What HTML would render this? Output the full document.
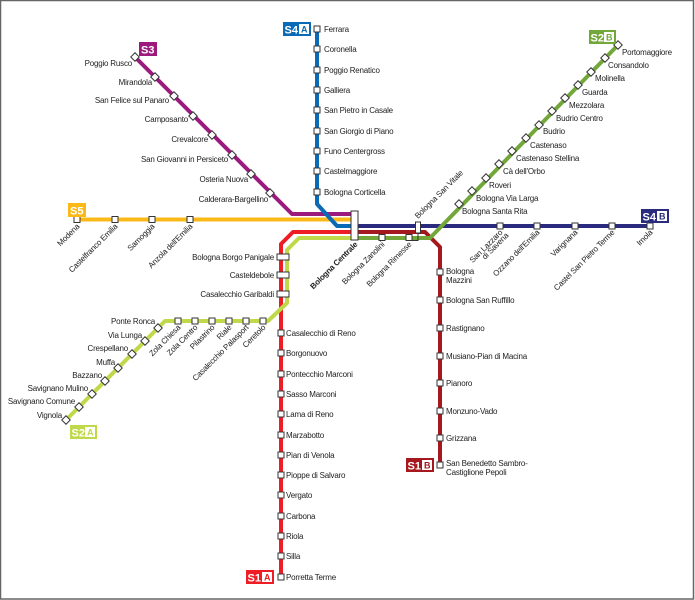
<!DOCTYPE html>
<html><head><meta charset="utf-8"><style>
html,body{margin:0;padding:0;background:#fff}
svg{display:block}
text{font-family:"Liberation Sans Narrow","Liberation Sans",sans-serif;font-size:8px;fill:#222;letter-spacing:-0.2px}
.b{font-weight:bold;font-size:11px;fill:#fff;font-family:"Liberation Sans",sans-serif;letter-spacing:0}
.st{fill:#fff;stroke:#333;stroke-width:1}
</style></head><body>
<svg width="695" height="600" viewBox="0 0 695 600" xmlns="http://www.w3.org/2000/svg">
<rect x="0.5" y="0.5" width="693" height="598.5" fill="#fff" stroke="#666" stroke-width="1.5"/>
<g fill="none" stroke-width="4" stroke-linejoin="round">
<polyline points="135,57 292,214 355,214" stroke="#9c1a7e"/>
<polyline points="77,219.5 355,219.5" stroke="#fbb817"/>
<polyline points="317,28 317,204 337,226 650,226" stroke="#0b6ab5"/>
<polyline points="355,226 650,226" stroke="#2a2a7e"/>
<polyline points="355,232 293,232 281,244 281,577" stroke="#ee1c24"/>
<polyline points="358,232 425,232 440,247 440,465" stroke="#a5181e"/>
<polyline points="355,238 299,238 287,250 287,303 268,321 165,321 66,420" stroke="#bfd94a"/>
<polyline points="358,238 430,238 618,45" stroke="#72a83a"/>
</g>
<g class="st">
<rect x="314" y="26" width="6" height="6"/><rect x="314" y="46" width="6" height="6"/><rect x="314" y="67" width="6" height="6"/><rect x="314" y="87" width="6" height="6"/><rect x="314" y="107" width="6" height="6"/><rect x="314" y="128" width="6" height="6"/><rect x="314" y="148" width="6" height="6"/><rect x="314" y="168" width="6" height="6"/><rect x="314" y="189" width="6" height="6"/>
<rect x="74" y="216.5" width="6" height="6"/><rect x="112" y="216.5" width="6" height="6"/><rect x="149" y="216.5" width="6" height="6"/><rect x="187" y="216.5" width="6" height="6"/>
<rect x="497" y="223" width="6" height="6"/><rect x="534" y="223" width="6" height="6"/><rect x="572" y="223" width="6" height="6"/><rect x="609" y="223" width="6" height="6"/><rect x="647" y="223" width="6" height="6"/>
<rect x="278" y="330" width="6" height="6"/><rect x="278" y="350" width="6" height="6"/><rect x="278" y="371" width="6" height="6"/><rect x="278" y="391" width="6" height="6"/><rect x="278" y="411" width="6" height="6"/><rect x="278" y="432" width="6" height="6"/><rect x="278" y="452" width="6" height="6"/><rect x="278" y="472" width="6" height="6"/><rect x="278" y="492" width="6" height="6"/><rect x="278" y="513" width="6" height="6"/><rect x="278" y="533" width="6" height="6"/><rect x="278" y="553" width="6" height="6"/><rect x="278" y="574" width="6" height="6"/>
<rect x="277" y="254" width="12" height="6"/><rect x="277" y="272" width="12" height="6"/><rect x="277" y="291" width="12" height="6"/>
<rect x="437" y="269" width="6" height="6"/><rect x="437" y="297" width="6" height="6"/><rect x="437" y="325" width="6" height="6"/><rect x="437" y="353" width="6" height="6"/><rect x="437" y="380" width="6" height="6"/><rect x="437" y="408" width="6" height="6"/><rect x="437" y="435" width="6" height="6"/><rect x="437" y="462" width="6" height="6"/>
<rect x="175" y="318" width="6" height="6"/><rect x="192" y="318" width="6" height="6"/><rect x="209" y="318" width="6" height="6"/><rect x="226" y="318" width="6" height="6"/><rect x="243" y="318" width="6" height="6"/><rect x="260" y="318" width="6" height="6"/>
<rect x="379" y="234.5" width="6" height="6"/><rect x="406" y="234.5" width="6" height="6"/>
<polyline points="412,240.5 418,240.5 418,233" fill="none"/>
<rect x="415.5" y="222" width="5" height="11"/>
<rect x="351" y="211" width="7" height="29"/>
</g>
<g class="st">
<g transform="translate(135,57) rotate(45)"><rect x="-3" y="-3" width="6" height="6"/></g>
<g transform="translate(155,77) rotate(45)"><rect x="-3" y="-3" width="6" height="6"/></g>
<g transform="translate(174,96) rotate(45)"><rect x="-3" y="-3" width="6" height="6"/></g>
<g transform="translate(193,116) rotate(45)"><rect x="-3" y="-3" width="6" height="6"/></g>
<g transform="translate(212,135) rotate(45)"><rect x="-3" y="-3" width="6" height="6"/></g>
<g transform="translate(232,155) rotate(45)"><rect x="-3" y="-3" width="6" height="6"/></g>
<g transform="translate(251,174) rotate(45)"><rect x="-3" y="-3" width="6" height="6"/></g>
<g transform="translate(270,193) rotate(45)"><rect x="-3" y="-3" width="6" height="6"/></g>
<g transform="translate(618,45) rotate(45)"><rect x="-3" y="-3" width="6" height="6"/></g>
<g transform="translate(605,58) rotate(45)"><rect x="-3" y="-3" width="6" height="6"/></g>
<g transform="translate(591,72) rotate(45)"><rect x="-3" y="-3" width="6" height="6"/></g>
<g transform="translate(578,85) rotate(45)"><rect x="-3" y="-3" width="6" height="6"/></g>
<g transform="translate(565,98) rotate(45)"><rect x="-3" y="-3" width="6" height="6"/></g>
<g transform="translate(552,111) rotate(45)"><rect x="-3" y="-3" width="6" height="6"/></g>
<g transform="translate(539,125) rotate(45)"><rect x="-3" y="-3" width="6" height="6"/></g>
<g transform="translate(526,138) rotate(45)"><rect x="-3" y="-3" width="6" height="6"/></g>
<g transform="translate(512,151) rotate(45)"><rect x="-3" y="-3" width="6" height="6"/></g>
<g transform="translate(499,164) rotate(45)"><rect x="-3" y="-3" width="6" height="6"/></g>
<g transform="translate(486,178) rotate(45)"><rect x="-3" y="-3" width="6" height="6"/></g>
<g transform="translate(472,191) rotate(45)"><rect x="-3" y="-3" width="6" height="6"/></g>
<g transform="translate(459,204) rotate(45)"><rect x="-3" y="-3" width="6" height="6"/></g>
<g transform="translate(158,328) rotate(45)"><rect x="-3" y="-3" width="6" height="6"/></g>
<g transform="translate(145,341) rotate(45)"><rect x="-3" y="-3" width="6" height="6"/></g>
<g transform="translate(132,354) rotate(45)"><rect x="-3" y="-3" width="6" height="6"/></g>
<g transform="translate(118,368) rotate(45)"><rect x="-3" y="-3" width="6" height="6"/></g>
<g transform="translate(105,381) rotate(45)"><rect x="-3" y="-3" width="6" height="6"/></g>
<g transform="translate(92,394) rotate(45)"><rect x="-3" y="-3" width="6" height="6"/></g>
<g transform="translate(79,407) rotate(45)"><rect x="-3" y="-3" width="6" height="6"/></g>
<g transform="translate(66,420) rotate(45)"><rect x="-3" y="-3" width="6" height="6"/></g>
</g>
<!-- badges -->
<rect x="283" y="22" width="28" height="14" fill="#0b6ab5"/><rect x="299" y="24" width="10" height="10" fill="#fff"/><text x="284.5" y="33.5" class="b">S4</text><text x="301" y="32.5" style="font-weight:bold;font-size:9px;fill:#0b6ab5">A</text>
<rect x="139" y="42" width="18" height="14" fill="#9c1a7e"/><text x="141" y="53.5" class="b">S3</text>
<rect x="589" y="30" width="27" height="14" fill="#72a83a"/><rect x="604" y="32" width="10" height="10" fill="#fff"/><text x="590.5" y="41.5" class="b">S2</text><text x="606" y="40.5" style="font-weight:bold;font-size:9px;fill:#72a83a">B</text>
<rect x="68" y="203" width="18" height="14" fill="#fbb817"/><text x="70" y="214.5" class="b">S5</text>
<rect x="641" y="209" width="28" height="14" fill="#2a2a7e"/><rect x="657" y="211" width="10" height="10" fill="#fff"/><text x="642.5" y="220.5" class="b">S4</text><text x="659" y="219.5" style="font-weight:bold;font-size:9px;fill:#2a2a7e">B</text>
<rect x="70" y="425" width="27" height="14" fill="#bfd94a"/><rect x="85" y="427" width="10" height="10" fill="#fff"/><text x="71.5" y="436.5" class="b">S2</text><text x="87" y="435.5" style="font-weight:bold;font-size:9px;fill:#bfd94a">A</text>
<rect x="406" y="458" width="28" height="14" fill="#a5181e"/><rect x="422" y="460" width="10" height="10" fill="#fff"/><text x="407.5" y="469.5" class="b">S1</text><text x="424" y="468.5" style="font-weight:bold;font-size:9px;fill:#a5181e">B</text>
<rect x="246" y="570" width="28" height="14" fill="#ee1c24"/><rect x="262" y="572" width="10" height="10" fill="#fff"/><text x="247.5" y="581.5" class="b">S1</text><text x="264" y="580.5" style="font-weight:bold;font-size:9px;fill:#ee1c24">A</text>
<g>
<text x="324" y="32">Ferrara</text><text x="324" y="52">Coronella</text><text x="324" y="73">Poggio Renatico</text><text x="324" y="93">Galliera</text><text x="324" y="113">San Pietro in Casale</text><text x="324" y="134">San Giorgio di Piano</text><text x="324" y="154">Funo Centergross</text><text x="324" y="174">Castelmaggiore</text><text x="324" y="195">Bologna Corticella</text>
</g>
<g text-anchor="end">
<text x="132" y="66">Poggio Rusco</text><text x="152" y="85">Mirandola</text><text x="169" y="103">San Felice sul Panaro</text><text x="188" y="122">Camposanto</text><text x="208" y="142">Crevalcore</text><text x="228" y="162">San Giovanni in Persiceto</text><text x="248" y="182">Osteria Nuova</text><text x="268" y="202">Calderara-Bargellino</text>
<text x="274" y="260">Bologna Borgo Panigale</text><text x="274" y="278">Casteldebole</text><text x="274" y="297">Casalecchio Garibaldi</text>
<text x="155" y="324">Ponte Ronca</text><text x="142" y="338">Via Lunga</text><text x="128" y="351">Crespellano</text><text x="115" y="365">Muffa</text><text x="102" y="378">Bazzano</text><text x="88" y="391">Savignano Mulino</text><text x="75" y="404">Savignano Comune</text><text x="62" y="418">Vignola</text>
</g>
<g>
<text x="622" y="55">Portomaggiore</text><text x="608" y="68">Consandolo</text><text x="595" y="81">Molinella</text><text x="582" y="95">Guarda</text><text x="569" y="108">Mezzolara</text><text x="556" y="121">Budrio Centro</text><text x="543" y="134">Budrio</text><text x="530" y="148">Castenaso</text><text x="516" y="161">Castenaso Stellina</text><text x="503" y="174">Cà dell'Orbo</text><text x="489" y="188">Roveri</text><text x="476" y="201">Bologna Via Larga</text><text x="462" y="214">Bologna Santa Rita</text>
</g>
<g>
<text x="286" y="336">Casalecchio di Reno</text><text x="286" y="356">Borgonuovo</text><text x="286" y="377">Pontecchio Marconi</text><text x="286" y="397">Sasso Marconi</text><text x="286" y="417">Lama di Reno</text><text x="286" y="438">Marzabotto</text><text x="286" y="458">Pian di Venola</text><text x="286" y="478">Pioppe di Salvaro</text><text x="286" y="498">Vergato</text><text x="286" y="519">Carbona</text><text x="286" y="539">Riola</text><text x="286" y="559">Silla</text><text x="286" y="580">Porretta Terme</text>
</g>
<g>
<text x="446" y="274">Bologna</text><text x="446" y="283">Mazzini</text><text x="446" y="303">Bologna San Ruffillo</text><text x="446" y="331">Rastignano</text><text x="446" y="359">Musiano-Pian di Macina</text><text x="446" y="386">Pianoro</text><text x="446" y="414">Monzuno-Vado</text><text x="446" y="441">Grizzana</text><text x="446" y="466">San Benedetto Sambro-</text><text x="446" y="475">Castiglione Pepoli</text>
</g>
<g text-anchor="end">
<text transform="translate(80,227) rotate(-45)">Modena</text>
<text transform="translate(118,227) rotate(-45)">Castelfranco Emilia</text>
<text transform="translate(155,227) rotate(-45)">Samoggia</text>
<text transform="translate(193,227) rotate(-45)">Anzola dell'Emilia</text>
<text transform="translate(503,233) rotate(-45)">San Lazzaro</text>
<text transform="translate(509,236) rotate(-45)">di Savena</text>
<text transform="translate(540,233) rotate(-45)">Ozzano dell'Emilia</text>
<text transform="translate(578,233) rotate(-45)">Varignana</text>
<text transform="translate(615,233) rotate(-45)">Castel San Pietro Terme</text>
<text transform="translate(653,233) rotate(-45)">Imola</text>
<text transform="translate(181,328) rotate(-45)">Zola Chiesa</text>
<text transform="translate(198,328) rotate(-45)">Zola Centro</text>
<text transform="translate(215,328) rotate(-45)">Pilastrino</text>
<text transform="translate(232,328) rotate(-45)">Riale</text>
<text transform="translate(249,328) rotate(-45)">Casalecchio Palasport</text>
<text transform="translate(266,328) rotate(-45)">Ceretolo</text>
<text transform="translate(358,245) rotate(-45)" style="font-weight:bold">Bologna Centrale</text>
<text transform="translate(385,245) rotate(-45)">Bologna Zanolini</text>
<text transform="translate(412,245) rotate(-45)">Bologna Rimesse</text>
</g>
<text transform="translate(418,219) rotate(-45)">Bologna San Vitale</text>
</svg>
</body></html>
